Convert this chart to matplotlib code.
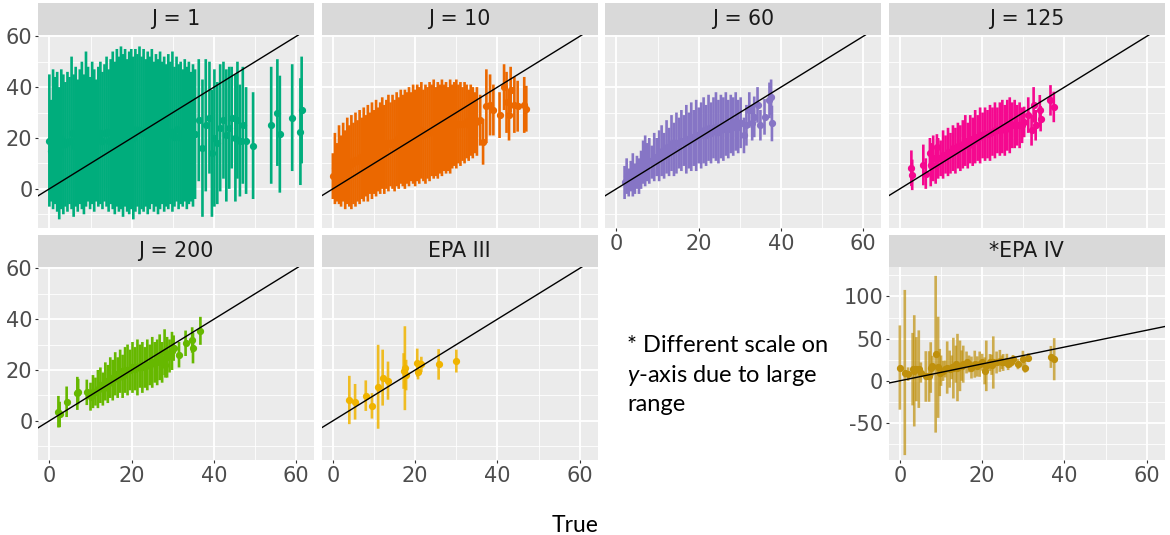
import matplotlib.pyplot as plt
from matplotlib.ticker import MultipleLocator

plt.rcParams['font.family'] = ['DejaVu Sans']
plt.rcParams['axes.unicode_minus'] = False
plt.rcParams['mathtext.fontset'] = 'custom'
plt.rcParams['mathtext.rm'] = 'Lato'
plt.rcParams['mathtext.it'] = 'Lato:italic'

# J = 1  (estimacion y semiancho del intervalo)
j1_x = [
    0.0, 0.4, 0.9, 1.4, 1.9, 2.4, 2.9, 3.4, 3.9, 4.4,
    4.9, 5.4, 5.9, 6.4, 6.9, 7.4, 7.9, 8.4, 8.9, 9.4,
    9.9, 10.4, 10.9, 11.4, 11.9, 12.4, 12.9, 13.4, 13.9, 14.4,
    14.9, 15.4, 15.9, 16.4, 16.9, 17.4, 17.9, 18.4, 18.9, 19.4,
    19.9, 20.4, 20.9, 21.4, 21.9, 22.4, 22.9, 23.4, 23.9, 24.4,
    24.9, 25.4, 25.9, 26.4, 26.9, 27.4, 27.9, 28.4, 28.9, 29.4,
    29.9, 30.4, 30.9, 31.4, 31.9, 32.4, 32.9, 33.4, 33.9, 34.4,
    34.9, 35.4, 36.3, 37.2, 38.0, 38.9, 39.5, 40.1, 40.8, 41.5,
    42.3, 43.0, 43.7, 44.3, 45.2, 45.7, 46.3, 47.0, 47.8, 49.5,
    53.9, 55.4, 56.0, 59.0, 61.0, 61.3]
j1_y = [
    19, 15, 19.5, 19, 18.5, 14, 19.5, 17.5, 17.5, 18.5,
    19, 22, 17, 20.5, 17, 20.5, 21, 17.5, 23.5, 21.5,
    18, 22, 19, 19, 20.5, 22, 19, 22, 22.5, 19,
    22.5, 23, 20, 24, 21.5, 24, 21, 24, 21, 22,
    23.5, 20, 23, 23, 23, 22, 23, 22, 22, 22,
    24.5, 20.5, 23, 20.5, 23, 22, 21.5, 21, 22.5, 22,
    22.5, 20.5, 23.5, 20.5, 22, 20, 23, 20, 22, 20.5,
    21, 21.5, 27, 16, 25, 28, 14, 20, 18, 24,
    27, 21, 24, 28, 20, 27, 19, 25, 19, 17,
    25, 30, 21.5, 28, 22.5, 31]
j1_err = [
    26, 20, 27.5, 25, 27.5, 26, 27.5, 27.5, 24.5, 27.5,
    25, 30, 28, 27.5, 26, 26.5, 29, 27.5, 30.5, 26.5,
    26, 28, 28, 24, 27.5, 28, 27, 27, 29.5, 28,
    28.5, 31, 30, 31, 30.5, 32, 32, 31, 30, 32,
    31.5, 32, 32, 30, 33, 30, 32, 29, 32, 30,
    30.5, 29.5, 30, 30.5, 31, 28, 30.5, 28, 30.5, 28,
    31.5, 27.5, 28.5, 28.5, 28, 27, 28, 28, 28, 25.5,
    28, 25.5, 24, 27, 26, 22, 25, 27, 24, 25,
    23, 26, 24, 20, 25, 23, 22, 23, 21, 21,
    23, 21, 23, 21, 21, 21]

# J = 10
j10_x = [
    0.0, 0.5, 1.0, 1.5, 2.0, 2.5, 3.0, 3.5, 4.0, 4.5,
    5.0, 5.5, 6.0, 6.5, 7.0, 7.5, 8.0, 8.5, 9.0, 9.5,
    10.0, 10.5, 11.0, 11.5, 12.0, 12.5, 13.0, 13.5, 14.0, 14.5,
    15.0, 15.5, 16.0, 16.5, 17.0, 17.5, 18.0, 18.5, 19.0, 19.5,
    20.0, 20.5, 21.0, 21.5, 22.0, 22.5, 23.0, 23.5, 24.0, 24.5,
    25.0, 25.5, 26.0, 26.5, 27.0, 27.5, 28.0, 28.5, 29.0, 29.5,
    30.0, 30.5, 31.0, 31.5, 32.0, 32.5, 33.0, 33.5, 34.0, 34.5,
    35.0, 35.8, 36.5, 37.3, 38.2, 39.0, 40.5, 41.6, 42.2, 42.8,
    43.2, 44.1, 44.9, 46.5, 47.0]
j10_y = [
    5, 8, 6.5, 9.5, 7, 10.5, 7.5, 11, 9, 10.5,
    10, 11.5, 11, 12.5, 12, 13.5, 13, 14, 14, 15,
    14.5, 16, 15.5, 16, 18, 15.5, 17.5, 18, 17.5, 18.5,
    17, 19.5, 18, 20.5, 19, 19.5, 20, 20.5, 20.5, 21.5,
    20, 22, 21, 23, 21, 21.5, 22, 22.5, 23, 23.5,
    22.5, 23, 23.5, 24, 24, 24, 23.5, 24.5, 24.5, 25.5,
    25.5, 25.5, 25.5, 25.5, 26, 26.5, 25, 27, 26, 26,
    26.5, 27, 18.5, 32.5, 33, 31, 29, 40, 34, 29,
    39, 33, 32.5, 33, 31.5]
j10_err = [
    9, 14, 11.5, 15.5, 14, 15.5, 15.5, 17, 16, 18.5,
    16, 18.5, 16, 18.5, 16, 18.5, 16, 19, 16, 19,
    16.5, 19, 16.5, 18, 18, 17.5, 17.5, 19, 16.5, 18.5,
    18, 18.5, 18, 18.5, 18, 19.5, 18, 19.5, 17.5, 19.5,
    19, 19, 19, 19, 18, 19.5, 18, 19.5, 18, 19.5,
    17.5, 19, 17.5, 19, 17, 18, 16.5, 18.5, 16.5, 16.5,
    17.5, 15.5, 16.5, 14.5, 16, 14.5, 14, 14, 14, 12,
    13.5, 10, 9, 14.5, 12, 10, 9, 9, 12, 10,
    9, 11, 10, 11, 9]

# J = 60
j60_x = [
    2.0, 2.5, 3.0, 3.5, 4.0, 4.5, 5.0, 5.5, 6.0, 6.5,
    7.0, 7.5, 8.0, 8.6, 9.2, 9.8, 10.4, 11.0, 11.6, 12.2,
    12.8, 13.4, 14.0, 14.6, 15.2, 15.8, 16.4, 17.0, 17.6, 18.2,
    18.8, 19.4, 20.0, 20.6, 21.2, 21.8, 22.4, 23.0, 23.6, 24.2,
    24.8, 25.4, 26.0, 26.6, 27.2, 27.8, 28.4, 29.0, 29.6, 30.2,
    31.0, 31.6, 32.3, 33.0, 33.5, 34.3, 35.0, 36.0, 37.2, 37.6,
    37.8]
j60_y = [
    2.5, 5, 2.5, 5, 5.5, 4, 6.5, 5, 7.5, 10.5,
    11, 10.5, 11, 10.5, 12.5, 12.5, 13, 15, 13, 16.5,
    14.5, 18, 15.5, 18, 18, 19, 19, 19.5, 19, 20.5,
    20, 21, 21, 21, 23, 21, 24, 22, 24, 24.5,
    22.5, 24.5, 23.5, 25.5, 23.5, 25.5, 24.5, 26.5, 24.5, 26,
    21, 25, 31, 26, 28.3, 33, 25, 28.3, 34.8, 36,
    25.7]
j60_err = [
    6.5, 7, 5.5, 6, 8.5, 6, 6.5, 7, 7.5, 8.5,
    10, 7.5, 9, 6.5, 9.5, 7.5, 10, 10, 9, 10.5,
    9.5, 11, 10.5, 12, 10, 12, 10, 13.5, 11, 13.5,
    11, 14, 11, 13, 13, 12, 13, 12, 12, 13.5,
    12.5, 12.5, 12.5, 12.5, 11.5, 11.5, 11.5, 11.5, 10.5, 10,
    7, 8, 7, 7, 8, 7, 6, 7, 7, 7,
    7]

# J = 125
j125_x = [
    2.8, 3.0, 5.7, 6.3, 7.3, 9.0,
    7.5, 8.1, 8.7, 9.3, 9.9, 10.5, 11.1, 11.7, 12.3, 12.9,
    13.5, 14.1, 14.7, 15.3, 15.9, 16.5, 17.1, 17.7, 18.3, 18.9,
    19.5, 20.1, 20.7, 21.3, 21.9, 22.5, 23.1, 23.7, 24.3, 24.9,
    25.5, 26.1, 26.7, 27.3, 27.9, 28.5, 29.1, 29.7,
    30.2, 31.2, 32.0, 32.5, 33.0, 34.0, 34.2, 36.6, 37.4]
j125_y = [
    8.1, 5.5, 9.4, 6, 14, 16.5,
    9.5, 12, 9.5, 12, 12, 13.5, 13.5, 14.5, 14, 16,
    15, 17, 16, 17.5, 19, 17, 19.5, 18.5, 20.5, 20,
    21, 21, 21.5, 21.5, 22, 22.5, 23, 23, 23.5, 24.5,
    23, 25, 25, 25, 25.5, 25, 25, 25,
    26.3, 29, 23, 33, 25, 30.9, 27.6, 34.8, 32.2]
j125_err = [
    7, 6, 8, 6, 6, 5,
    8.5, 9, 7.5, 8, 7, 9.5, 7.5, 9.5, 8, 9,
    9, 9, 9, 9.5, 10, 9, 9.5, 9.5, 10.5, 9,
    11, 9, 10.5, 9.5, 11, 9.5, 11, 9, 10.5, 10.5,
    10, 10, 11, 9, 9.5, 8, 9, 7,
    6, 7, 6, 7, 6, 6, 5, 6, 6]

# J = 200
j200_x = [
    2.2, 2.5, 4.2, 6.8, 7.0, 9.1,
    10.0, 10.6, 11.2, 11.8, 12.4, 13.0, 13.6, 14.2, 14.8, 15.4,
    16.0, 16.6, 17.2, 17.8, 18.4, 19.0, 19.6, 20.2, 20.8, 21.4,
    22.0, 22.6, 23.2, 23.8, 24.4, 25.0, 25.6, 26.2, 26.8, 27.4,
    28.0, 28.6, 29.2, 29.8,
    28.2, 30.2, 31.5, 33.1, 34.7, 34.9, 36.7]
j200_y = [
    3.6, 2.5, 7.5, 10.8, 11.5, 11.2,
    9.5, 11.5, 11.5, 12.5, 14, 12.5, 15.5, 14.5, 17, 16,
    18.5, 17, 19.5, 17.5, 20, 20, 20, 21, 20.5, 21,
    21.5, 21, 21, 22, 22, 23, 23, 23, 25, 23,
    27, 25, 25.5, 27.5,
    22, 28.6, 26, 30.5, 31.8, 28.6, 35.4]
j200_err = [
    6.2, 5, 6, 6.5, 5, 5,
    5.5, 6.5, 5.5, 7.5, 7, 6.5, 7.5, 7.5, 8, 8,
    8.5, 8, 8.5, 8.5, 9, 10, 8, 10, 8.5, 11,
    8.5, 10, 8, 10, 8, 10, 8, 9, 9, 8,
    9, 8, 6.5, 7.5,
    5, 5, 5, 5, 5, 6, 5.5]

# EPA III
epa3_x = [4.0, 5.4, 8.0, 9.5, 11.0, 12.1, 13.4, 17.2, 17.5, 17.8, 20.5, 20.7, 21.5, 25.7, 30.0]
epa3_y = [8.2, 7.5, 9.9, 5.9, 13.4, 17.0, 15.8, 19.6, 20.7, 18.0, 22.9, 19.3, 22.2, 22.2, 23.5]
epa3_err = [9.5, 7, 6, 5, 16.5, 11, 7.5, 7, 16.5, 6, 5.5, 3, 3, 6, 4.5]

# *EPA IV
epa4_x = [
    0.0, 1.2, 2.0, 3.1, 3.5, 4.0, 4.6, 5.1, 6.3, 7.1,
    7.5, 7.9, 8.7, 9.3, 9.7, 10.0, 10.5, 11.0, 11.5, 12.1,
    12.6, 13.0, 13.6, 14.0, 14.6, 15.0, 15.4, 16.2, 16.8, 17.4,
    18.2, 18.8, 19.4, 20.0, 20.6, 21.0, 21.9, 22.3, 22.7, 23.5,
    24.3, 24.8, 25.1, 26.0, 26.3, 27.0, 27.5, 28.7, 29.9, 30.4,
    31.2, 36.7, 37.5]
epa4_y = [
    15.7, 9.8, 7.9, 13.8, 11.8, 13.8, 13.8, 9.8, 5.1, 5.1,
    15.7, 17.7, 31.5, 16, 9.8, 12, 11.8, 14, 15.7, 13.8,
    16, 15, 19.7, 15.7, 17.7, 18, 19.7, 21.7, 20, 15.7,
    19.7, 17, 19.7, 22, 11.8, 17.7, 21.7, 19, 21.7, 21.7,
    23.6, 22, 21.7, 24, 19.7, 22, 25.6, 19.7, 25.6, 15.7,
    27.6, 28.3, 25.6]
epa4_err = [
    50, 98, 8, 43, 66, 38, 46, 12, 30, 30,
    30, 12, 93, 60, 28, 18, 12, 10, 31, 22,
    14, 36, 22, 40, 30, 18, 22, 13, 10, 13,
    16, 12, 15, 10, 16, 30, 10, 12, 31, 13,
    13, 8, 10, 8, 7, 6, 5, 6, 10, 6,
    5, 13, 25]

W, H = 1170, 535
col_left = [38, 321.5, 605, 888.5]
fila_top = [35, 267]
panel_w, panel_h, strip_h = 276, 193, 32

fig = plt.figure(figsize=(W / 100, H / 100), dpi=100)


def dibujar_panel(col, fila, titulo, x, y, err, color, ylim, yticks, yminor,
                  eje_x, eje_y, alpha_barras=1.0):
    left = col_left[col]
    top = fila_top[fila]
    ax = fig.add_axes([left / W, (H - top - panel_h) / H, panel_w / W, panel_h / H])
    ax.set_facecolor('#EBEBEB')
    ax.set_xlim(-2.76, 64.3)
    ax.set_ylim(*ylim)
    ax.set_xticks([0, 20, 40, 60])
    ax.set_yticks(yticks)
    ax.xaxis.set_minor_locator(MultipleLocator(10))
    ax.yaxis.set_minor_locator(MultipleLocator(yminor))
    ax.grid(which='major', color='white', lw=1.3)
    ax.grid(which='minor', color='white', lw=0.6)
    ax.set_axisbelow(True)
    for s in ax.spines.values():
        s.set_visible(False)
    ax.tick_params(which='minor', length=0)
    ax.tick_params(which='major', width=0.8, color='#333333', labelsize=15,
                   labelcolor='#4D4D4D', pad=1.5)
    ax.tick_params(axis='x', labelbottom=eje_x, length=2.5 if eje_x else 0)
    ax.tick_params(axis='y', labelleft=eje_y, length=2.5 if eje_y else 0)
    for lab in ax.get_xticklabels() + ax.get_yticklabels():
        lab.set_family('DejaVu Sans')

    lo = [yi - ei for yi, ei in zip(y, err)]
    hi = [yi + ei for yi, ei in zip(y, err)]
    barras = ax.vlines(x, lo, hi, colors=color, lw=1.9, alpha=alpha_barras, zorder=2)
    barras.set_snap(False)
    ax.plot(x, y, 'o', ms=4.2, color=color, zorder=3)
    ax.axline((0, 0), slope=1, color='black', lw=1.0, zorder=4)

    # franja del titulo (estilo facet de ggplot)
    sx = fig.add_axes([left / W, (H - top) / H, panel_w / W, strip_h / H])
    sx.set_facecolor('#D9D9D9')
    sx.set_xticks([])
    sx.set_yticks([])
    for s in sx.spines.values():
        s.set_visible(False)
    sx.text(0.5, 0.5, titulo, ha='center', va='center', fontsize=14.8,
            family='DejaVu Sans', color='#1A1A1A', transform=sx.transAxes)
    return ax


yl = (-15.4, 60.5)
yt = [0, 20, 40, 60]
dibujar_panel(0, 0, 'J = 1', j1_x, j1_y, j1_err, '#00AD7C', yl, yt, 10, False, True)
dibujar_panel(1, 0, 'J = 10', j10_x, j10_y, j10_err, '#EB6800', yl, yt, 10, False, False)
dibujar_panel(2, 0, 'J = 60', j60_x, j60_y, j60_err, '#8675C5', yl, yt, 10, True, False)
dibujar_panel(3, 0, 'J = 125', j125_x, j125_y, j125_err, '#F5088F', yl, yt, 10, False, False)
dibujar_panel(0, 1, 'J = 200', j200_x, j200_y, j200_err, '#66B800', yl, yt, 10, True, True)
dibujar_panel(1, 1, 'EPA III', epa3_x, epa3_y, epa3_err, '#F0B400', yl, yt, 10, True, False,
              alpha_barras=0.85)
dibujar_panel(3, 1, '*EPA IV', epa4_x, epa4_y, epa4_err, '#BF900C', (-94, 135),
              [-50, 0, 50, 100], 25, True, True, alpha_barras=0.7)

# nota y etiqueta del eje x
fig.text(627 / W, 1 - 352 / H, '* Different scale on', fontsize=17, family='Lato',
         va='baseline', ha='left', color='black')
fig.text(627 / W, 1 - 381.5 / H, r'$\mathit{y}$-axis due to large', fontsize=17,
         family='Lato', va='baseline', ha='left', color='black')
fig.text(627 / W, 1 - 411 / H, 'range', fontsize=17, family='Lato',
         va='baseline', ha='left', color='black')
fig.text(575.5 / W, 1 - 532 / H, 'True', fontsize=16.5, family='Lato',
         va='baseline', ha='center', color='black')

fig.savefig('out.png', dpi=100)
